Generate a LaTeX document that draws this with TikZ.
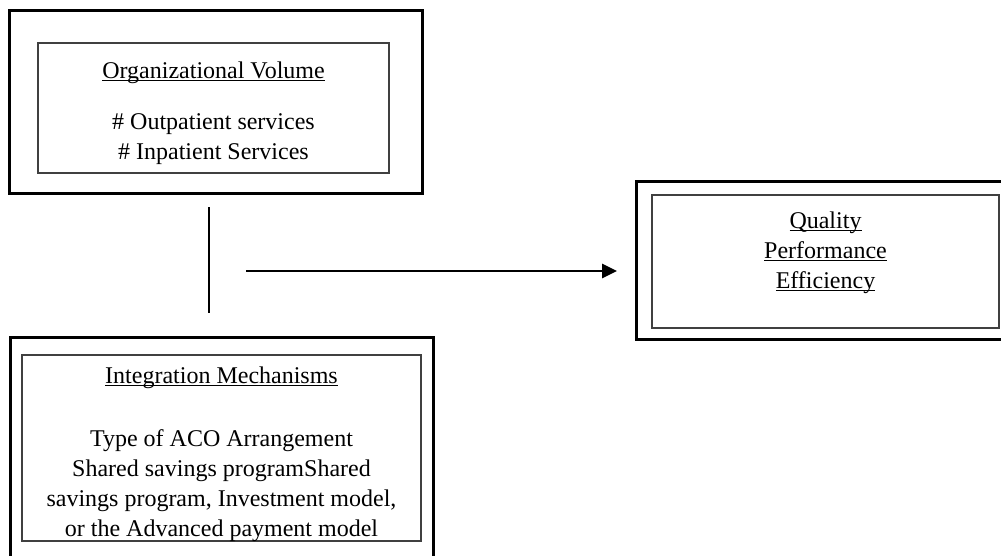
\documentclass[tikz,border=0pt]{standalone}
\usepackage{fontspec}
\setmainfont{Liberation Serif}
\usetikzlibrary{arrows.meta}

% underline sitting just under the baseline, as a word processor does
\newcommand{\ulin}[1]{\setbox0\hbox{#1}\rlap{\rule[-1.7pt]{\wd0}{0.6pt}}\box0}

\tikzset{
    outerbox/.style={draw, black, line width=1.5pt, inner sep=0pt},
    innerbox/.style={draw, black!75, line width=0.75pt, inner sep=0pt},
    boxtext/.style={align=center, anchor=north, inner sep=0pt, font=\fontsize{12}{15}\selectfont},
    link/.style={black, line width=1.3pt},
}

\begin{document}
\begin{tikzpicture}[x=0.5pt, y=-0.5pt]
    \useasboundingbox (0,0) rectangle (1001,556);
    \clip (0,0) rectangle (1001,556);
    % This draws the top left box.
        \node[outerbox, minimum width=206.5pt, minimum height=91pt] (volOuter) at (215.5,102) {};
        \node[innerbox, minimum width=175.5pt, minimum height=65pt] (volInner) at (213.5,108) {};
        \node[boxtext] (volText) at (213.5,61) {\ulin{Organizational Volume}\\[10.5pt] \# Outpatient services\\ \# Inpatient Services};
    % This draws the bottom left box, it runs off the page.
        \node[outerbox, minimum width=211.5pt, minimum height=121.5pt] (intOuter) at (221.5,458.5) {};
        \node[innerbox, minimum width=199.5pt, minimum height=93pt] (intInner) at (221.5,448) {};
        \node[boxtext] (intText) at (221.5,366) {\ulin{Integration Mechanisms}\\[16.5pt] Type of ACO Arrangement\\ Shared savings programShared\\ savings program, Investment model,\\ or the Advanced payment model};
    % This draws the box on the right.
        \node[outerbox, minimum width=189.5pt, minimum height=79pt] (outOuter) at (825.5,260) {};
        \node[innerbox, minimum width=173.5pt, minimum height=66.5pt] (outInner) at (825.5,261.5) {};
        \node[boxtext] (outText) at (825.5,211) {\ulin{Quality}\\ \ulin{Performance}\\ \ulin{Efficiency}};
    % Below are the ends of the bar and the arrow.
        \coordinate (barTop) at (209,207);
        \coordinate (barBottom) at (209,313);
        \coordinate (arrowStart) at (246,271);
        \coordinate (arrowEnd) at (617,271);
        \draw[link] (barTop) -- (barBottom);
        \draw[link, -{Triangle[length=7.5pt, width=7pt]}] (arrowStart) -- (arrowEnd);
\end{tikzpicture}
\end{document}
